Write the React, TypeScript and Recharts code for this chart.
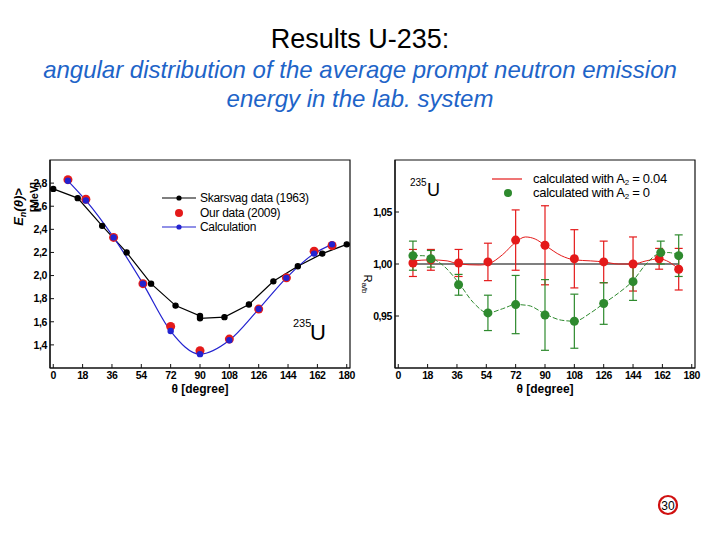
import { ComposedChart, Line, Scatter, XAxis, YAxis, ErrorBar, ReferenceArea } from "recharts";

// angle ticks shared by both panels
const angleTicks = [0, 18, 36, 54, 72, 90, 108, 126, 144, 162, 180];

// left panel: <E_n(theta)> [MeV]
const skarsvagAngle = [0, 15, 30, 45, 60, 75, 90, 90, 105, 120, 135, 150, 165, 180];
const skarsvagE = [2.75, 2.67, 2.43, 2.2, 1.93, 1.74, 1.65, 1.63, 1.64, 1.75, 1.95, 2.08, 2.19, 2.27];

const ourAngle = [9, 20, 37, 55, 72, 90, 108, 126, 143, 160, 171];
const ourE = [2.83, 2.66, 2.33, 1.93, 1.56, 1.35, 1.45, 1.71, 1.98, 2.21, 2.26];
const calcE = [2.82, 2.65, 2.33, 1.93, 1.52, 1.32, 1.44, 1.71, 1.98, 2.19, 2.27];
const energyTicks = [1.4, 1.6, 1.8, 2.0, 2.2, 2.4, 2.6, 2.8];

// right panel: ratio R a/b
const ratioAngle = [9, 20, 37, 55, 72, 90, 108, 126, 144, 160, 172];
const redRatio = [1.001, 1.004, 1.001, 1.002, 1.023, 1.018, 1.005, 1.002, 1.0, 1.005, 0.995];
const redErr = [0.013, 0.01, 0.013, 0.018, 0.029, 0.038, 0.028, 0.02, 0.026, 0.01, 0.02];
const greenAngle = [9, 20, 37, 55, 72, 90, 108, 126, 144, 161, 172];
const greenRatio = [1.008, 1.005, 0.98, 0.953, 0.961, 0.951, 0.945, 0.962, 0.983, 1.011, 1.008];
const greenErr = [0.014, 0.008, 0.01, 0.017, 0.028, 0.034, 0.026, 0.02, 0.018, 0.011, 0.02];

const redCurveAngle = [9, 20, 30, 37, 50, 55, 64, 72, 78, 84, 90, 100, 108, 118, 126, 135, 144, 152, 160, 166, 172];
const redCurve = [1.003, 1.004, 1.003, 1.0, 0.999, 1.0, 1.009, 1.021, 1.026, 1.024, 1.018, 1.008, 1.004, 1.003, 1.002, 1.0, 1.0, 1.003, 1.005, 1.002, 0.995];
const greenCurveAngle = [9, 15, 20, 28, 37, 46, 55, 64, 72, 80, 90, 100, 108, 118, 126, 135, 144, 152, 160, 166, 172];
const greenCurve = [1.008, 1.008, 1.006, 0.998, 0.982, 0.963, 0.953, 0.957, 0.961, 0.96, 0.952, 0.946, 0.945, 0.953, 0.962, 0.972, 0.984, 1.0, 1.01, 1.011, 1.008];
const baselineAngle = [9, 172];
const baselineRatio = [1.0, 1.0];
const ratioTicks = [0.95, 1.0, 1.05];

const skarsvag = skarsvagAngle.map((x, i) => ({ x, y: skarsvagE[i] }));
const ourData = ourAngle.map((x, i) => ({ x, y: ourE[i] }));
const calc = ourAngle.map((x, i) => ({ x, y: calcE[i] }));
const redPts = ratioAngle.map((x, i) => ({ x, y: redRatio[i], err: redErr[i] }));
const greenPts = greenAngle.map((x, i) => ({ x, y: greenRatio[i], err: greenErr[i] }));
const redLine = redCurveAngle.map((x, i) => ({ x, y: redCurve[i] }));
const greenLine = greenCurveAngle.map((x, i) => ({ x, y: greenCurve[i] }));
const baseline = baselineAngle.map((x, i) => ({ x, y: baselineRatio[i] }));

const RED = "#e41a1a";
const GREEN = "#2e8a2e";
const BLUE = "#2323d0";
const FONT = "Arial, 'Liberation Sans', sans-serif";
const tickStyle = { fontSize: 10.5, fontWeight: "bold", fill: "#000", fontFamily: FONT, letterSpacing: -0.4 };
const axisLine = { stroke: "#111", strokeWidth: 1.2 };

const dot = (color: string, r: number) => (p: any) =>
  <circle key={`${p.cx}-${p.cy}`} cx={p.cx} cy={p.cy} r={r} fill={color} stroke="none" />;

function LeftChart() {
  return (
    <ComposedChart width={360} height={250} margin={{ top: 10, right: 10, bottom: 0, left: 10 }}
      style={{ position: "absolute", left: 0, top: 150 }}>
      <XAxis type="number" dataKey="x" domain={[-2, 182]} ticks={angleTicks} allowDataOverflow height={32}
        tickSize={-4} tickMargin={8} tick={tickStyle} axisLine={axisLine} tickLine={{ stroke: "#111" }} />
      <YAxis type="number" domain={[1.2, 3.0]} ticks={energyTicks} allowDataOverflow width={40}
        tickSize={-4} tickMargin={7} tick={tickStyle} tickFormatter={(v: number) => v.toFixed(1).replace(".", ",")}
        axisLine={axisLine} tickLine={{ stroke: "#111" }} />
      <ReferenceArea x1={-2} x2={182} y1={1.2} y2={3.0} fill="none" stroke="#111" strokeWidth={1.2} />
      <Line data={skarsvag} dataKey="y" type="linear" stroke="#000" strokeWidth={1.2}
        dot={{ r: 2.6, fill: "#000", stroke: "#000" }} isAnimationActive={false} />
      <Scatter data={ourData} dataKey="y" shape={dot(RED, 4.5)} isAnimationActive={false} />
      <Line data={calc} dataKey="y" type="monotone" stroke={BLUE} strokeWidth={1.2}
        dot={{ r: 2.6, fill: BLUE, stroke: BLUE }} isAnimationActive={false} />
    </ComposedChart>
  );
}

function RightChart() {
  return (
    <ComposedChart width={360} height={250} margin={{ top: 10, right: 20, bottom: 0, left: 10 }}
      style={{ position: "absolute", left: 355, top: 150 }}>
      <XAxis type="number" dataKey="x" domain={[-2, 182]} ticks={angleTicks} allowDataOverflow height={32}
        tickSize={-4} tickMargin={8} tick={tickStyle} axisLine={axisLine} tickLine={{ stroke: "#111" }} />
      <YAxis type="number" domain={[0.9, 1.1]} ticks={ratioTicks} allowDataOverflow width={30}
        tickSize={-4} tickMargin={7} tick={tickStyle} tickFormatter={(v: number) => v.toFixed(2).replace(".", ",")}
        axisLine={axisLine} tickLine={{ stroke: "#111" }} />
      <ReferenceArea x1={-2} x2={182} y1={0.9} y2={1.1} fill="none" stroke="#111" strokeWidth={1.2} />
      <Line data={baseline} dataKey="y" type="linear" stroke="#000" strokeWidth={1.2} dot={false} isAnimationActive={false} />
      <Line data={redLine} dataKey="y" type="monotone" stroke={RED} strokeWidth={1} dot={false} isAnimationActive={false} />
      <Line data={greenLine} dataKey="y" type="monotone" stroke={GREEN} strokeWidth={1} strokeDasharray="5 2"
        dot={false} isAnimationActive={false} />
      <Scatter data={redPts} dataKey="y" shape={dot(RED, 4.5)} isAnimationActive={false}>
        <ErrorBar dataKey="err" direction="y" width={4} stroke={RED} strokeWidth={1.2} />
      </Scatter>
      <Scatter data={greenPts} dataKey="y" shape={dot(GREEN, 4.5)} isAnimationActive={false}>
        <ErrorBar dataKey="err" direction="y" width={4} stroke={GREEN} strokeWidth={1.2} />
      </Scatter>
    </ComposedChart>
  );
}

function Overlay() {
  const t = { fontFamily: FONT, fill: "#000" };
  return (
    <svg width={720} height={540} style={{ position: "absolute", left: 0, top: 0, pointerEvents: "none" }}>
      <text x={360} y={48} textAnchor="middle" fontSize={27} {...t}>Results U-235:</text>
      <text x={360} y={78} textAnchor="middle" fontSize={24} fontStyle="italic" fontFamily={FONT} fill="#1e64c8">
        angular distribution of the average prompt neutron emission
      </text>
      <text x={360} y={107} textAnchor="middle" fontSize={24} fontStyle="italic" fontFamily={FONT} fill="#1e64c8">
        energy in the lab. system
      </text>

      {/* left panel texts */}
      <text transform="translate(23,207) rotate(-90)" textAnchor="middle" fontSize={13} fontWeight="bold"
        fontStyle="italic" {...t}>E<tspan fontSize={9} dy={3}>n</tspan><tspan dy={-3}>(θ)&gt;</tspan></text>
      <text transform="translate(38,197) rotate(-90)" textAnchor="middle" fontSize={11} fontWeight="bold" {...t}>[MeV]</text>
      <text x={200} y={393} textAnchor="middle" fontSize={12} fontWeight="bold" {...t}>θ [degree]</text>
      <text x={293} y={327} fontSize={11} {...t}>235</text>
      <text x={310} y={340} fontSize={22} {...t}>U</text>

      <line x1={162} y1={198} x2={196} y2={198} stroke="#000" strokeWidth={1.2} />
      <circle cx={179} cy={198} r={2.6} fill="#000" />
      <text x={200} y={202} fontSize={12} letterSpacing={-0.3} {...t}>Skarsvag data (1963)</text>
      <circle cx={179} cy={213} r={4} fill={RED} />
      <text x={200} y={217} fontSize={12} letterSpacing={-0.3} {...t}>Our data (2009)</text>
      <line x1={162} y1={227} x2={196} y2={227} stroke={BLUE} strokeWidth={1.2} />
      <circle cx={179} cy={227} r={2.6} fill={BLUE} />
      <text x={200} y={231} fontSize={12} letterSpacing={-0.3} {...t}>Calculation</text>

      {/* right panel texts */}
      <text transform="translate(364,284) rotate(90)" textAnchor="middle" fontSize={11} {...t}>
        R<tspan fontSize={8} dy={2}>a/b</tspan>
      </text>
      <text x={545} y={393} textAnchor="middle" fontSize={12} fontWeight="bold" {...t}>θ [degree]</text>
      <text x={410} y={186} fontSize={10} {...t}>235</text>
      <text x={427} y={196} fontSize={18} {...t}>U</text>

      <line x1={492} y1={179} x2={522} y2={179} stroke={RED} strokeWidth={1.2} />
      <text x={533} y={183} fontSize={13} letterSpacing={-0.3} {...t}>
        calculated with A<tspan fontSize={8} dy={2}>2</tspan><tspan dy={-2}> = 0.04</tspan>
      </text>
      <circle cx={508} cy={193} r={4} fill={GREEN} />
      <text x={533} y={197} fontSize={13} letterSpacing={-0.3} {...t}>
        calculated with A<tspan fontSize={8} dy={2}>2</tspan><tspan dy={-2}> = 0</tspan>
      </text>

      {/* slide number */}
      <circle cx={668} cy={505} r={9} fill="#fff" stroke="#d01010" strokeWidth={2.2} />
      <text x={668} y={509.5} textAnchor="middle" fontSize={12} {...t}>30</text>
    </svg>
  );
}

export default function App() {
  return (
    <div style={{ position: "absolute", left: 0, top: 0, width: 720, height: 540, background: "#fff", overflow: "hidden" }}>
      <LeftChart />
      <RightChart />
      <Overlay />
    </div>
  );
}
